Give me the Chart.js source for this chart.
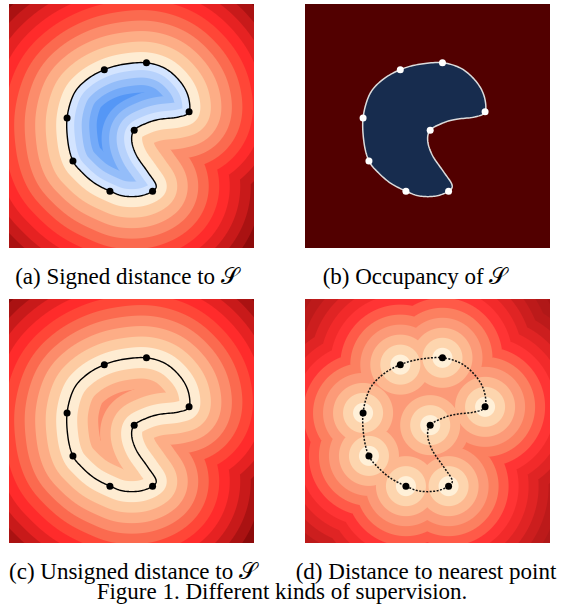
<!DOCTYPE html>
<html>
<head>
<meta charset="utf-8">
<script src="https://cdn.jsdelivr.net/npm/chart.js@4.4.1/dist/chart.umd.min.js"></script>
<style>
  body { margin: 0; background: #fff; }
  #fig { position: relative; width: 564px; height: 608px; overflow: hidden; background: #fff; }
  #fig canvas { position: absolute; }
  .cap {
    position: absolute; white-space: nowrap; line-height: 1; color: #000;
    font-family: "Liberation Serif", "Times New Roman", serif; font-size: 23px;
    transform: translateX(-50%);
  }
</style>
</head>
<body>
<div id="fig">
  <canvas id="cA" width="253" height="252" style="left:5px;top:0px"></canvas>
  <canvas id="cB" width="253" height="252" style="left:301px;top:0px"></canvas>
  <canvas id="cC" width="253" height="252" style="left:5px;top:295px"></canvas>
  <canvas id="cD" width="253" height="252" style="left:301px;top:295px"></canvas>
  <div class="cap" id="capA" style="left:127px;top:265px"></div>
  <div class="cap" id="capB" style="left:415px;top:265px"></div>
  <div class="cap" id="capC" style="left:133px;top:560px"></div>
  <div class="cap" id="capD" style="left:426px;top:560px"></div>
  <div class="cap" id="capFig" style="left:282px;top:580px"></div>
</div>
<script>
// the curve S (percent of panel, y from top)
const curveX = [38.9, 46.8, 56.1, 63.9, 69.8, 73.1, 73.5, 69.2, 61.3, 56.0, 51.1, 50.1, 52.1,
                56.6, 60.0, 58.6, 53.4, 46.8, 41.2, 34.9, 29.6, 26.1, 24.1, 23.7, 26.4, 31.6];
const curveY = [26.9, 24.7, 24.1, 26.5, 31.7, 37.7, 44.2, 46.3, 47.3, 48.9, 51.7, 56.2, 62.2,
                68.8, 74.1, 76.7, 78.7, 78.7, 76.7, 73.4, 68.8, 64.3, 56.9, 46.7, 37.0, 31.1];

// the 8 sample points on S
const dotX = [38.9, 56.1, 73.5, 51.1, 58.6, 41.2, 26.1, 23.7];
const dotY = [26.9, 24.1, 44.2, 51.7, 76.7, 76.7, 64.3, 46.7];

// captions
const subCaptions = ["(a) Signed distance to ", "(b) Occupancy of ", "(c) Unsigned distance to ", "(d) Distance to nearest point"];
const shapeName = "\u{1D4AE}";
const figCaption = "Figure 1. Different kinds of supervision.";

// colours for the bands
const RED_OUT  = ['#feecd2','#fdcba2','#fdad86','#fc8c6b','#fb6a4f','#ff4637','#ff2b2b','#e62222','#c81a1a','#aa1212','#8c0a0a','#700404','#580000'];
const BLUE_IN  = ['#d3e4ff','#b7d2fc','#94bdf9','#74aaf8','#5597f6','#4a8ff5'];
const RED_PTS  = ['#fff0d8','#fdd5ae','#fdb890','#fc9a78','#fc8060','#ff5a48','#ff3434','#f22a2a','#e02424','#cc1e1e','#bc1a1a','#b01818','#a81414','#a01010'];
const OCC_BG   = '#520000';
const OCC_FILL = '#172c4e';

function hexRgb(h) {
  return [parseInt(h.slice(1,3),16), parseInt(h.slice(3,5),16), parseInt(h.slice(5,7),16)];
}

// closed catmull-rom through the (pixel) curve points
function closedSpline(p, steps) {
  const out = [];
  const n = p.length;
  for (let i = 0; i < n; i++) {
    const p0 = p[(i - 1 + n) % n], p1 = p[i], p2 = p[(i + 1) % n], p3 = p[(i + 2) % n];
    for (let s = 0; s < steps; s++) {
      const t = s / steps, t2 = t * t, t3 = t2 * t;
      const f = (a, b, c, d) => 0.5 * ((2 * b) + (-a + c) * t + (2*a - 5*b + 4*c - d) * t2 + (-a + 3*b - 3*c + d) * t3);
      out.push([f(p0[0], p1[0], p2[0], p3[0]), f(p0[1], p1[1], p2[1], p3[1])]);
    }
  }
  return out;
}

function distToPoly(px, py, poly) {
  let best = 1e9;
  const n = poly.length;
  for (let i = 0; i < n; i++) {
    const a = poly[i], b = poly[(i + 1) % n];
    const dx = b[0] - a[0], dy = b[1] - a[1];
    let t = ((px - a[0]) * dx + (py - a[1]) * dy) / (dx * dx + dy * dy || 1);
    t = t < 0 ? 0 : t > 1 ? 1 : t;
    const ex = a[0] + t * dx - px, ey = a[1] + t * dy - py;
    const d = ex * ex + ey * ey;
    if (d < best) best = d;
  }
  return Math.sqrt(best);
}

function inside(px, py, poly) {
  let c = false;
  for (let i = 0, j = poly.length - 1; i < poly.length; j = i++) {
    const a = poly[i], b = poly[j];
    if ((a[1] > py) !== (b[1] > py) && px < (b[0] - a[0]) * (py - a[1]) / (b[1] - a[1]) + a[0]) c = !c;
  }
  return c;
}

// band colour with a little smoothing at the band edges
function bandColor(d, w, pal) {
  const idx = Math.min(Math.floor(d / w), pal.length - 1);
  let c = pal[idx];
  const up = (idx + 1) * w - d, lo = d - idx * w;
  if (up < 0.5 && idx + 1 < pal.length) {
    const k = 0.5 - up, o = pal[idx + 1];
    c = [c[0] + (o[0] - c[0]) * k, c[1] + (o[1] - c[1]) * k, c[2] + (o[2] - c[2]) * k];
  } else if (lo < 0.5 && idx > 0 && idx < pal.length - 1) {
    const k = 0.5 - lo, o = pal[idx - 1];
    c = [c[0] + (o[0] - c[0]) * k, c[1] + (o[1] - c[1]) * k, c[2] + (o[2] - c[2]) * k];
  }
  return c;
}

const fieldPlugin = {
  id: 'field',
  beforeDatasetsDraw(chart, args, opts) {
    const { ctx, chartArea: area, scales: { x, y } } = chart;
    const toPx = p => [x.getPixelForValue(p.x), y.getPixelForValue(p.y)];
    const curve = chart.data.datasets[0].data.map(toPx);
    const dots = chart.data.datasets[1].data.map(toPx);
    const poly = closedSpline(curve, 12);
    const W = Math.round(area.right - area.left), H = Math.round(area.bottom - area.top);
    const off = document.createElement('canvas');
    off.width = W; off.height = H;
    const octx = off.getContext('2d');
    const img = octx.createImageData(W, H);
    const redO = RED_OUT.map(hexRgb), blue = BLUE_IN.map(hexRgb), redP = RED_PTS.map(hexRgb);
    const bg = hexRgb(OCC_BG), fill = hexRgb(OCC_FILL);
    for (let j = 0; j < H; j++) {
      for (let i = 0; i < W; i++) {
        const px = area.left + i + 0.5, py = area.top + j + 0.5;
        let c;
        if (opts.mode === 'occupancy') {
          c = inside(px, py, poly) ? fill : bg;
        } else if (opts.mode === 'points') {
          let best = 1e9;
          for (const p of dots) best = Math.min(best, Math.hypot(px - p[0], py - p[1]));
          c = bandColor(best, opts.w, redP);
        } else {
          const d = distToPoly(px, py, poly);
          if (opts.mode === 'signed' && inside(px, py, poly)) c = bandColor(d, opts.wIn, blue);
          else c = bandColor(d, opts.w, redO);
        }
        const k = (j * W + i) * 4;
        img.data[k] = c[0]; img.data[k + 1] = c[1]; img.data[k + 2] = c[2]; img.data[k + 3] = 255;
      }
    }
    octx.putImageData(img, 0, 0);
    ctx.drawImage(off, area.left, area.top);

    // the curve S
    ctx.save();
    ctx.beginPath();
    poly.forEach((p, i) => i ? ctx.lineTo(p[0], p[1]) : ctx.moveTo(p[0], p[1]));
    ctx.closePath();
    ctx.strokeStyle = opts.lineColor;
    ctx.lineWidth = opts.lineWidth;
    ctx.setLineDash(opts.dash || []);
    ctx.stroke();
    ctx.restore();
  }
};

function makePanel(id, fieldOpts, dotColor) {
  return new Chart(document.getElementById(id), {
    type: 'scatter',
    data: {
      datasets: [{
        // curve samples: used by the field plugin, not drawn as marks
        data: curveX.map((v, i) => ({ x: v, y: curveY[i] })),
        pointRadius: 0,
        showLine: false
      }, {
        data: dotX.map((v, i) => ({ x: v, y: dotY[i] })),
        pointRadius: 3.5,
        pointBackgroundColor: dotColor,
        pointBorderWidth: 0
      }]
    },
    options: {
      responsive: false,
      animation: false,
      layout: { padding: 0 },
      events: [],
      plugins: {
        legend: { display: false },
        tooltip: { enabled: false },
        field: fieldOpts
      },
      scales: {
        x: { type: 'linear', min: 0, max: 100, display: false },
        y: { type: 'linear', min: 0, max: 100, reverse: true, display: false }
      }
    },
    plugins: [fieldPlugin]
  });
}

makePanel('cA', { mode: 'signed', w: 10.5, wIn: 7.5, lineColor: '#000', lineWidth: 1.4 }, '#000');
makePanel('cB', { mode: 'occupancy', lineColor: '#dcdcdc', lineWidth: 1.5 }, '#fff');
makePanel('cC', { mode: 'unsigned', w: 10.5, lineColor: '#000', lineWidth: 1.4 }, '#000');
makePanel('cD', { mode: 'points', w: 10, lineColor: '#111', lineWidth: 1.5, dash: [2, 1.5] }, '#000');

// captions
const capIds = ['capA', 'capB', 'capC', 'capD'];
capIds.forEach((id, i) => {
  const el = document.getElementById(id);
  el.textContent = subCaptions[i];
  if (i < 3) {
    const s = document.createElement('span');
    s.textContent = shapeName;
    el.appendChild(s);
  }
});
document.getElementById('capFig').textContent = figCaption;
</script>
</body>
</html>
